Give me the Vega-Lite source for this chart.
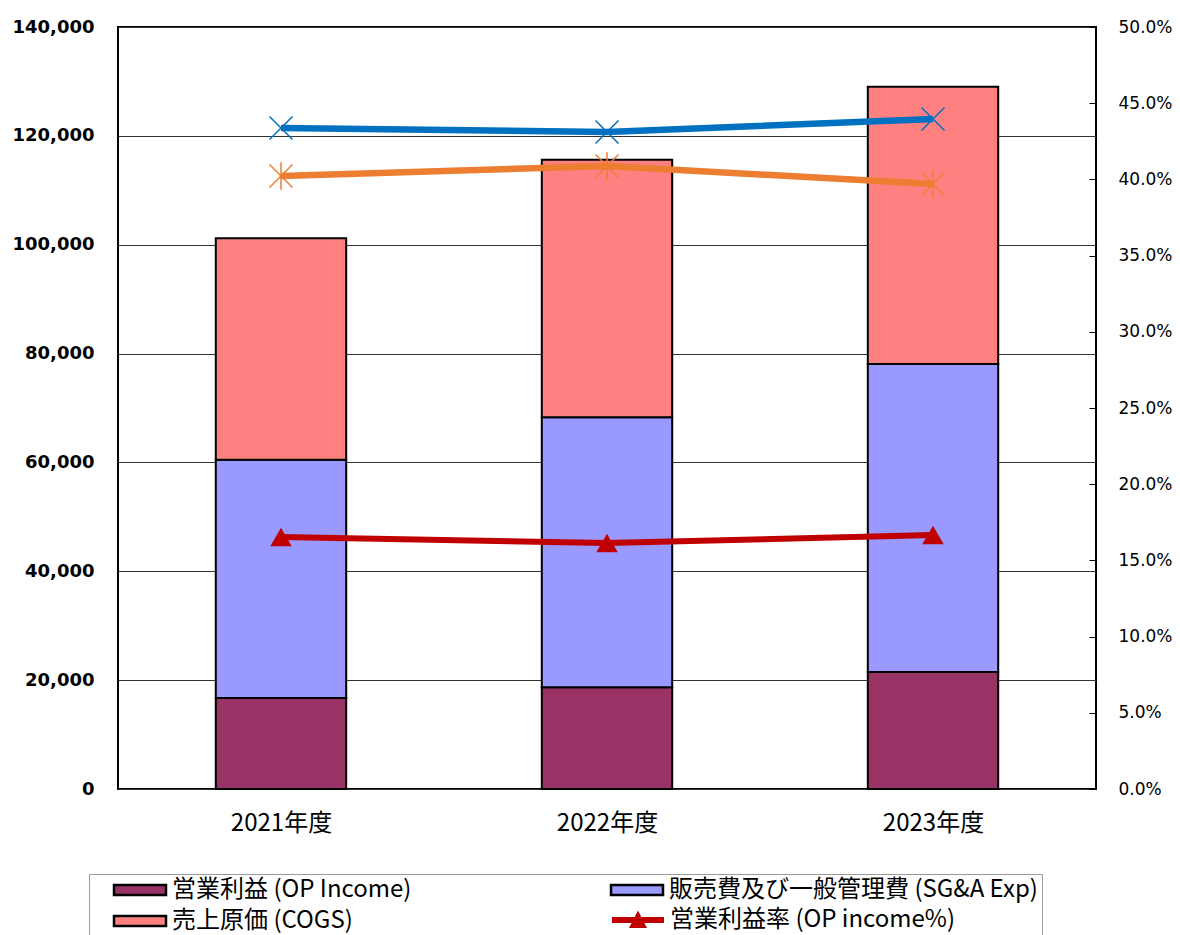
{
  "$schema": "https://vega.github.io/schema/vega-lite/v6.json",
  "width": 978,
  "height": 762,
  "autosize": {"type": "none"},
  "padding": {"left": 118, "top": 27, "right": 84, "bottom": 146},
  "background": "white",
  "config": {
    "view": {"stroke": "black", "strokeWidth": 2},
    "legend": {
      "orient": "none",
      "direction": "horizontal",
      "padding": 4,
      "symbolOffset": 35,
      "labelFont": "Noto Sans CJK JP",
      "labelFontSize": 24,
      "labelColor": "black",
      "labelOffset": 20,
      "rowPadding": 7,
      "gridAlign": "all",
      "symbolSize": 100,
      "labelLimit": 700
    }
  },
  "datasets": {
    "costs": [
      {"year": "2021年度", "series": "営業利益 (OP Income)", "o": 1, "value": 16700},
      {"year": "2021年度", "series": "販売費及び一般管理費 (SG&A Exp)", "o": 2, "value": 43800},
      {"year": "2021年度", "series": "売上原価 (COGS)", "o": 3, "value": 40700},
      {"year": "2022年度", "series": "営業利益 (OP Income)", "o": 1, "value": 18700},
      {"year": "2022年度", "series": "販売費及び一般管理費 (SG&A Exp)", "o": 2, "value": 49600},
      {"year": "2022年度", "series": "売上原価 (COGS)", "o": 3, "value": 47300},
      {"year": "2023年度", "series": "営業利益 (OP Income)", "o": 1, "value": 21500},
      {"year": "2023年度", "series": "販売費及び一般管理費 (SG&A Exp)", "o": 2, "value": 56600},
      {"year": "2023年度", "series": "売上原価 (COGS)", "o": 3, "value": 50900}
    ],
    "ratios": [
      {"year": "2021年度", "kind": "sga", "v": 0.4337},
      {"year": "2022年度", "kind": "sga", "v": 0.4311},
      {"year": "2023年度", "kind": "sga", "v": 0.4396},
      {"year": "2021年度", "kind": "cogs", "v": 0.4022},
      {"year": "2022年度", "kind": "cogs", "v": 0.4088},
      {"year": "2023年度", "kind": "cogs", "v": 0.3970},
      {"year": "2021年度", "kind": "op", "v": 0.1654},
      {"year": "2022年度", "kind": "op", "v": 0.1614},
      {"year": "2023年度", "kind": "op", "v": 0.1667}
    ]
  },
  "layer": [
    {
      "data": {"name": "costs"},
      "mark": {"type": "bar", "stroke": "black", "strokeWidth": 2, "opacity": 1},
      "encoding": {
        "x": {
          "field": "year",
          "type": "nominal",
          "scale": {"paddingInner": 0.6, "paddingOuter": 0.3},
          "axis": {
            "title": null,
            "labelAngle": 0,
            "labelFont": "Noto Sans CJK JP",
            "labelFontSize": 24,
            "labelColor": "black",
            "tickBand": "extent",
            "tickSize": -7,
            "tickColor": "black",
            "tickWidth": 1,
            "domain": false,
            "labelPadding": 29
          }
        },
        "y": {
          "field": "value",
          "type": "quantitative",
          "stack": "zero",
          "scale": {"domain": [0, 140000], "nice": false},
          "axis": {
            "title": null,
            "values": [0, 20000, 40000, 60000, 80000, 100000, 120000, 140000],
            "format": ",d",
            "labelFont": "DejaVu Sans",
            "labelFontSize": 18,
            "labelFontWeight": "bold",
            "labelColor": "black",
            "labelPadding": 24,
            "ticks": false,
            "domain": false,
            "grid": true,
            "gridColor": "#333333",
            "gridWidth": 1
          }
        },
        "color": {
          "field": "series",
          "type": "nominal",
          "scale": {
            "domain": ["営業利益 (OP Income)", "販売費及び一般管理費 (SG&A Exp)", "売上原価 (COGS)"],
            "range": ["#993366", "#9999FF", "#FF8080"]
          },
          "legend": {
            "title": null,
            "legendX": -29,
            "legendY": 847,
            "columns": 2,
            "columnPadding": 49,
            "strokeColor": "#9a9a9a",
            "fillColor": "white",
            "symbolType": "M-5.2,-1L5.2,-1L5.2,1L-5.2,1Z",
            "symbolStrokeColor": "black",
            "symbolStrokeWidth": 2.5,
            "symbolOpacity": 1
          }
        },
        "order": {"field": "o", "type": "quantitative"}
      }
    },
    {
      "data": {"name": "ratios"},
      "encoding": {
        "x": {"field": "year", "type": "nominal"},
        "y": {
          "field": "v",
          "type": "quantitative",
          "scale": {"domain": [0, 0.5], "nice": false},
          "axis": {
            "orient": "right",
            "title": null,
            "values": [0, 0.05, 0.1, 0.15, 0.2, 0.25, 0.3, 0.35, 0.4, 0.45, 0.5],
            "format": ".1%",
            "labelFont": "DejaVu Sans",
            "labelFontSize": 17,
            "labelColor": "black",
            "tickSize": -7,
            "tickColor": "black",
            "tickWidth": 1,
            "labelPadding": 29,
            "domain": false,
            "grid": false
          }
        }
      },
      "layer": [
        {
          "transform": [{"filter": "datum.kind === 'sga'"}],
          "mark": {"type": "line", "color": "#0070C0", "strokeWidth": 6.5}
        },
        {
          "transform": [{"filter": "datum.kind === 'sga'"}],
          "mark": {"type": "point", "shape": "M-1,-1L1,1M-1,1L1,-1", "size": 529, "stroke": "#0070C0", "strokeWidth": 1.5, "filled": false, "opacity": 1}
        },
        {
          "transform": [{"filter": "datum.kind === 'cogs'"}],
          "mark": {"type": "line", "color": "#ED7D31", "strokeWidth": 6.5}
        },
        {
          "transform": [{"filter": "datum.kind === 'cogs'"}],
          "mark": {"type": "point", "shape": "M-1,-1L1,1M-1,1L1,-1M0,-1.2L0,1.2", "size": 529, "stroke": "#ED7D31", "strokeWidth": 1.5, "filled": false, "opacity": 1}
        },
        {
          "transform": [{"filter": "datum.kind === 'op'"}],
          "mark": {"type": "line", "color": "#C00000", "strokeWidth": 6}
        },
        {
          "transform": [{"filter": "datum.kind === 'op'"}],
          "mark": {"type": "point", "shape": "triangle-up", "size": 460, "filled": true, "color": "#C00000", "opacity": 1}
        },
        {
          "transform": [{"filter": "datum.kind === 'op'"}],
          "mark": {"type": "point", "size": 100, "filled": true, "color": "#C00000", "opacity": 0},
          "encoding": {
            "shape": {
              "datum": "営業利益率 (OP income%)",
              "scale": {"range": ["M-5.2,-0.6L5.2,-0.6L5.2,0.6L-5.2,0.6Z M-1.8,1.6L0,-1.9L1.8,1.6Z"]},
              "legend": {
                "title": null,
                "legendX": 469,
                "legendY": 877,
                "strokeColor": null,
                "fillColor": null,
                "symbolOpacity": 1,
                "symbolFillColor": "#C00000",
                "symbolStrokeWidth": 0
              }
            }
          }
        }
      ]
    }
  ],
  "resolve": {"scale": {"y": "independent"}}
}
